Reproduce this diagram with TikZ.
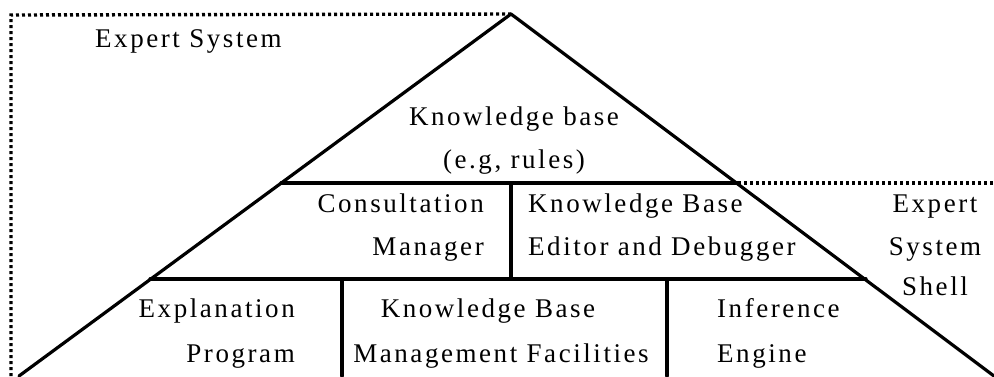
\documentclass[tikz,border=0pt]{standalone}
\usepackage{fontspec}
\newfontfamily\bmp{Liberation Serif}[LetterSpace=9.5]
\tikzset{
  edge/.style={line width=3.2pt, line cap=round, line join=round},
  dotline/.style={line width=3.4pt, dash pattern=on 3pt off 3pt},
  lbl/.style={inner sep=0pt, font=\bmp\fontsize{27}{32}\selectfont},
}
\begin{document}
\begin{tikzpicture}[x=1pt,y=-1pt]
\useasboundingbox (0,0) rectangle (994,376);
% key points
\coordinate (apex) at (511,14);
\coordinate (bl) at (19,376);
\coordinate (br) at (994,376);
\coordinate (l1) at (281,183);
\coordinate (r1) at (738,183);
\coordinate (l2) at (150,279);
\coordinate (r2) at (866,279);
\coordinate (v1t) at (511,183);
\coordinate (v1b) at (511,279);
\coordinate (v2t) at (342,279);
\coordinate (v2b) at (342,376);
\coordinate (v3t) at (667,279);
\coordinate (v3b) at (667,376);
\coordinate (dtl) at (11,15);
\coordinate (dbl) at (11,376);
\coordinate (dr) at (994,183);
% dotted frames
\draw[dotline] (dbl) -- (dtl) -- (apex);
\draw[dotline] (r1) -- (dr);
% triangle
\draw[edge] (bl) -- (apex) -- (br);
\draw[edge] (l1) -- (r1);
\draw[edge] (l2) -- (r2);
\draw[edge] (v1t) -- (v1b);
\draw[edge] (v2t) -- (v2b);
\draw[edge] (v3t) -- (v3b);
% labels
\node[lbl, anchor=base west] (es) at (95,47) {Expert System};
\node[lbl, anchor=base] (kb1) at (514,125) {Knowledge base};
\node[lbl, anchor=base] (kb2) at (514,168) {(e.g, rules)};
\node[lbl, anchor=base east] (cm1) at (484,212) {Consultation};
\node[lbl, anchor=base east] (cm2) at (484,255) {Manager};
\node[lbl, anchor=base west] (ed1) at (528,212) {Knowledge Base};
\node[lbl, anchor=base west] (ed2) at (528,255) {Editor and Debugger};
\node[lbl, anchor=base] (sh1) at (935,212) {Expert};
\node[lbl, anchor=base] (sh2) at (935,255) {System};
\node[lbl, anchor=base] (sh3) at (935,295) {Shell};
\node[lbl, anchor=base east] (ex1) at (295,317) {Explanation};
\node[lbl, anchor=base east] (ex2) at (295,362) {Program};
\node[lbl, anchor=base] (mf1) at (488,317) {Knowledge Base};
\node[lbl, anchor=base] (mf2) at (501,362) {Management Facilities};
\node[lbl, anchor=base west] (ie1) at (717,317) {Inference};
\node[lbl, anchor=base west] (ie2) at (717,362) {Engine};
\end{tikzpicture}
\end{document}
